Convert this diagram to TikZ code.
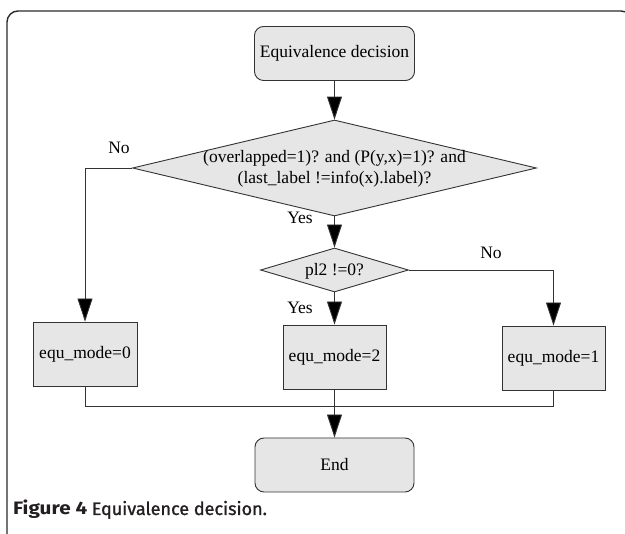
\documentclass[tikz,border=0pt]{standalone}
\usepackage{graphicx}
\usepackage{fontspec}
\setmainfont{Liberation Serif}
\newfontfamily\capfont{Fira Sans}
\newfontfamily\capmed[FakeBold=1.2]{Fira Sans}
\usetikzlibrary{shapes.geometric,arrows.meta}
\definecolor{boxfill}{HTML}{E6E6E6}
\definecolor{lineclr}{HTML}{333333}
\definecolor{framec}{HTML}{2A2A2A}
\definecolor{captc}{HTML}{231F20}
\tikzset{
  base/.style={draw=lineclr, line width=0.9pt, fill=boxfill, inner sep=0pt,
    font=\fontsize{17.5}{21}\selectfont},
  termbox/.style={base, rectangle, rounded corners=9pt},
  procbox/.style={base, rectangle},
  decbox/.style={base, diamond},
  txt/.style={font=\fontsize{17.5}{21}\selectfont, inner sep=0pt, align=center},
  conn/.style={draw=lineclr, line width=0.9pt},
  arr/.style={conn, -{Triangle[length=23pt,width=15pt,fill=black]}},
}
\begin{document}
\begin{tikzpicture}[x=1pt,y=-1pt]
\clip (0,0) rectangle (625,534);
\fill[white] (0,0) rectangle (625,534);
% frame
\draw[framec, line width=1.4pt, rounded corners=11pt] (7,11) rectangle (632,545);
% nodes
\node[termbox, minimum width=160pt, minimum height=54pt] (start) at (334.5,53.5) {Equivalence decision};
\node[decbox, minimum width=404pt, minimum height=96pt] (d1) at (334.5,168) {};
\node[txt] (d1t) at (334.5,169) {(overlapped=1)? and (P(y,x)=1)? and\\(last\_label !=info(x).label)?};
\node[decbox, minimum width=148pt, minimum height=44pt] (d2) at (334.5,270) {};
\node[txt] (d2t) at (334.5,271) {pl2 !=0?};
\node[procbox, minimum width=104pt, minimum height=64pt] (m0) at (85,354) {equ\_mode=0};
\node[procbox, minimum width=103pt, minimum height=64pt] (m2) at (334.5,357) {equ\_mode=2};
\node[procbox, minimum width=103pt, minimum height=64pt] (m1) at (553.5,358) {equ\_mode=1};
\node[termbox, minimum width=159pt, minimum height=54pt] (end) at (334.5,465) {End};
% labels
\node[txt] (no1) at (119,148) {No};
\node[txt] (yes1) at (300,218) {Yes};
\node[txt] (no2) at (491,253) {No};
\node[txt] (yes2) at (300,308) {Yes};
% connectors
\coordinate (c0) at (85,168);
\coordinate (c1) at (553.5,270);
\coordinate (j0) at (85,406);
\coordinate (j1) at (553.5,406);
\draw[arr] (start) -- (d1);
\draw[arr] (d1.west) -- (c0) -- (m0.north);
\draw[arr] (d1.south) -- (d2.north);
\draw[arr] (d2.east) -- (c1) -- (m1.north);
\draw[arr] (d2.south) -- (m2.north);
\draw[conn] (m0.south) -- (j0) -- (j1) -- (m1.south);
\draw[arr] (m2.south) -- (end.north);
% caption
\node[anchor=base west, inner sep=0pt, text=captc, font=\fontsize{18}{21}\selectfont] (cap) at (13,515) {\scalebox{1.15}[1]{\capfont\bfseries Figure 4}\ \scalebox{1.0}[1]{\capmed Equivalence decision.}};
\end{tikzpicture}
\end{document}
